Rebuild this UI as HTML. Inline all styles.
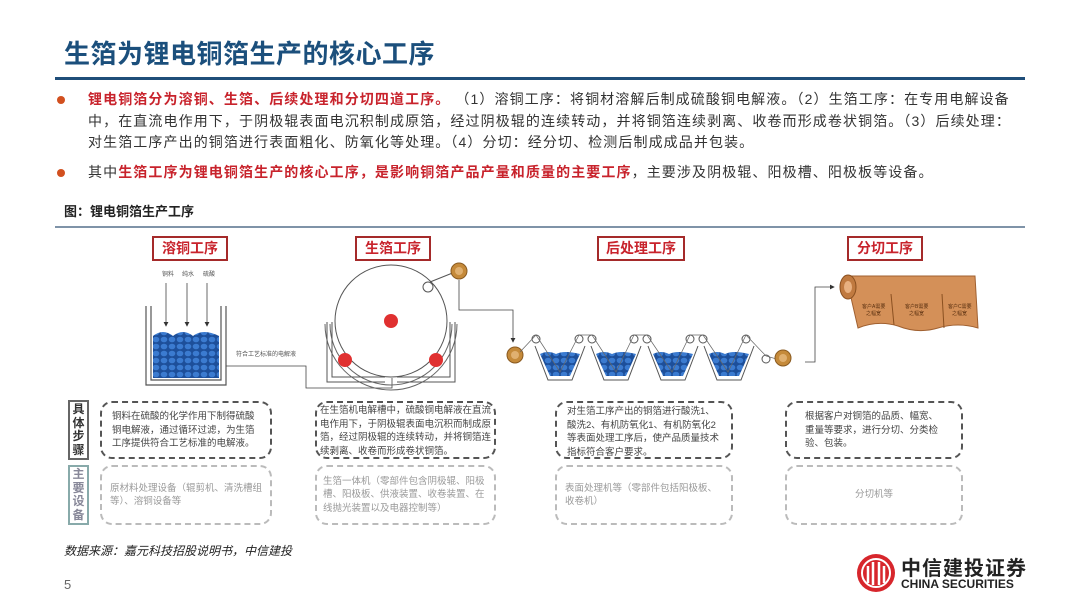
<!DOCTYPE html>
<html><head><meta charset="utf-8"><style>
*{margin:0;padding:0;box-sizing:border-box}
body{width:1080px;height:608px;background:#fff;position:relative;overflow:hidden;font-family:"Liberation Sans","Noto Sans CJK SC",sans-serif;color:#333}
.a{position:absolute}
.title{left:64px;top:34px;font-size:26px;font-weight:bold;color:#1b4f7c;letter-spacing:0.5px}
.bl{left:88px;font-size:14px;line-height:21.5px;color:#333;white-space:nowrap;letter-spacing:1.1px}
.dot{left:57px;width:8px;height:8px;border-radius:50%;background:#d2501f}
.r{color:#c8232c;font-weight:bold}
.step{border:2px solid #a52a2a;color:#c8232c;font-weight:bold;font-size:14px;text-align:center;line-height:21px;height:25px}
.db{border:2px dashed #555;border-radius:12px;font-size:9.5px;line-height:13.5px;color:#444;padding:6px 8px}
.db2{border:2px dashed #bbb;border-radius:12px;font-size:9.5px;line-height:13.5px;color:#999;padding:6px 8px;display:flex;align-items:center}
.lab{border:2px solid #666;font-size:12px;font-weight:bold;text-align:center;line-height:13.5px;padding-top:1px}
</style></head><body>
<div class="a title">生箔为锂电铜箔生产的核心工序</div>
<div class="a" style="left:55px;top:77px;width:970px;height:3px;background:#1f4e79"></div>
<div class="a dot" style="top:96px"></div>
<div class="a bl" style="top:89px"><span class="r">锂电铜箔分为溶铜、生箔、后续处理和分切四道工序。</span> （1）溶铜工序：将铜材溶解后制成硫酸铜电解液。（2）生箔工序：在专用电解设备<br>中，在直流电作用下，于阴极辊表面电沉积制成原箔，经过阴极辊的连续转动，并将铜箔连续剥离、收卷而形成卷状铜箔。（3）后续处理：<br>对生箔工序产出的铜箔进行表面粗化、防氧化等处理。（4）分切：经分切、检测后制成成品并包装。</div>
<div class="a dot" style="top:169px"></div>
<div class="a bl" style="top:162px">其中<span class="r">生箔工序为锂电铜箔生产的核心工序，是影响铜箔产品产量和质量的主要工序</span>，主要涉及阴极辊、阳极槽、阳极板等设备。</div>
<div class="a" style="left:64px;top:201px;font-size:13px;font-weight:bold;color:#222">图：锂电铜箔生产工序</div>
<div class="a" style="left:55px;top:226px;width:970px;height:2px;background:#7f93a8"></div>

<div class="a step" style="left:152px;top:236px;width:76px">溶铜工序</div>
<div class="a step" style="left:355px;top:236px;width:76px">生箔工序</div>
<div class="a step" style="left:597px;top:236px;width:88px">后处理工序</div>
<div class="a step" style="left:847px;top:236px;width:76px">分切工序</div>

<svg class="a" style="left:0;top:0" width="1080" height="400">
<defs><pattern id="p" width="8" height="7" patternUnits="userSpaceOnUse"><rect width="8" height="7" fill="#1d4f9a"/><ellipse cx="4" cy="3.5" rx="3.3" ry="2.8" fill="#3b7bd0"/></pattern>
<marker id="m" markerWidth="6" markerHeight="6" refX="5" refY="3" orient="auto"><path d="M0,0L6,3L0,6z" fill="#333"/></marker></defs>
<g font-size="6" fill="#555"><text x="162" y="276">铜料</text><text x="182" y="276">纯水</text><text x="203" y="276">硫酸</text></g>
<g stroke="#444" stroke-width="0.8"><line x1="166" y1="283" x2="166" y2="326" marker-end="url(#m)"/><line x1="187" y1="283" x2="187" y2="326" marker-end="url(#m)"/><line x1="207" y1="283" x2="207" y2="326" marker-end="url(#m)"/></g>
<path d="M146,306V385H226V306M151,306V380H221V306" fill="none" stroke="#555" stroke-width="1.2"/>
<path d="M153,336 q10,-8 20,0 q10,-8 20,0 q10,-8 26,0 V378H153z" fill="url(#p)"/>
<text x="236" y="356" font-size="6" fill="#555">符合工艺标准的电解液</text>
<path d="M226,366H306V388H392V378" fill="none" stroke="#444" stroke-width="0.8"/>
<circle cx="391" cy="321" r="56" fill="#fff" stroke="#555" stroke-width="1"/>
<path d="M330,324a61,61 0 0 0 122,0M325,324a66,66 0 0 0 132,0" fill="none" stroke="#666" stroke-width="1"/>
<path d="M327,322V382H385M455,322V382H397M332,322V377H385M450,322V377H397" fill="none" stroke="#555" stroke-width="1"/>
<circle cx="391" cy="321" r="7" fill="#e03030"/><circle cx="345" cy="360" r="7" fill="#e03030"/><circle cx="436" cy="360" r="7" fill="#e03030"/>
<circle cx="428" cy="287" r="5" fill="#fff" stroke="#555"/>
<line x1="430" y1="282" x2="455" y2="272" stroke="#555"/>
<circle cx="459" cy="271" r="8" fill="#c58a3a" stroke="#8a5a20"/><circle cx="459" cy="271" r="4" fill="#e0b070"/>
<path d="M459,280V310H513V342" fill="none" stroke="#444" stroke-width="0.8" marker-end="url(#m)"/>
<circle cx="515" cy="355" r="8" fill="#c58a3a" stroke="#8a5a20"/><circle cx="515" cy="355" r="4" fill="#e0b070"/>
<g>
<path d="M535,346L548,380H572L585,346" fill="none" stroke="#555"/><path d="M540,354q8,-4 16,0q8,-4 24,0L570,376H550z" fill="url(#p)"/>
<path d="M591,346L604,380H628L641,346" fill="none" stroke="#555"/><path d="M596,354q8,-4 16,0q8,-4 24,0L626,376H606z" fill="url(#p)"/>
<path d="M648,346L661,380H685L698,346" fill="none" stroke="#555"/><path d="M653,354q8,-4 16,0q8,-4 24,0L683,376H663z" fill="url(#p)"/>
<path d="M704,346L717,380H741L754,346" fill="none" stroke="#555"/><path d="M709,354q8,-4 16,0q8,-4 24,0L739,376H719z" fill="url(#p)"/>
</g>
<g fill="#fff" stroke="#555"><circle cx="536" cy="339" r="4"/><circle cx="579" cy="339" r="4"/><circle cx="592" cy="339" r="4"/><circle cx="634" cy="339" r="4"/><circle cx="647" cy="339" r="4"/><circle cx="690" cy="339" r="4"/><circle cx="703" cy="339" r="4"/><circle cx="746" cy="339" r="4"/><circle cx="766" cy="359" r="4"/></g>
<path d="M520,352L536,335L560,372L579,335H592L616,372L634,335H647L672,372L690,335H703L728,372L746,335L766,356L780,360" fill="none" stroke="#666" stroke-width="0.7"/>
<circle cx="783" cy="358" r="8" fill="#c58a3a" stroke="#8a5a20"/><circle cx="783" cy="358" r="4" fill="#e0b070"/>
<path d="M805,362H815V287H834" fill="none" stroke="#444" stroke-width="0.8" marker-end="url(#m)"/>
<path d="M846,276H975L978,328q-20,-6 -40,0q-20,6 -40,-2q-20,-6 -40,2z" fill="#d49058" stroke="#a06030"/>
<ellipse cx="848" cy="287" rx="8" ry="12" fill="#c07a40" stroke="#8a5020"/><ellipse cx="848" cy="287" rx="4" ry="6" fill="#e8b080"/>
<line x1="891" y1="294" x2="894" y2="325" stroke="#8a5020"/><line x1="942" y1="294" x2="944" y2="328" stroke="#8a5020"/>
<g font-size="5" fill="#5a3010"><text x="862" y="308">客户A需要</text><text x="866" y="315">之幅宽</text><text x="905" y="308">客户B需要</text><text x="909" y="315">之幅宽</text><text x="948" y="308">客户C需要</text><text x="952" y="315">之幅宽</text></g>
</svg>

<div class="a lab" style="left:68px;top:400px;width:21px;height:60px">具<br>体<br>步<br>骤</div>
<div class="a lab" style="left:68px;top:465px;width:21px;height:60px;border-color:#8aa;color:#889">主<br>要<br>设<br>备</div>

<div class="a db" style="left:100px;top:401px;width:172px;height:58px;padding:7px 10px">铜料在硫酸的化学作用下制得硫酸铜电解液，通过循环过滤，为生箔工序提供符合工艺标准的电解液。</div>
<div class="a db" style="left:315px;top:401px;width:181px;height:58px;padding:1px 3px">在生箔机电解槽中，硫酸铜电解液在直流电作用下，于阴极辊表面电沉积而制成原箔，经过阴极辊的连续转动，并将铜箔连续剥离、收卷而形成卷状铜箔。</div>
<div class="a db" style="left:555px;top:401px;width:178px;height:58px;padding:2px 10px">对生箔工序产出的铜箔进行酸洗1、酸洗2、有机防氧化1、有机防氧化2等表面处理工序后，使产品质量技术指标符合客户要求。</div>
<div class="a db" style="left:785px;top:401px;width:178px;height:58px;padding:7px 18px">根据客户对铜箔的品质、幅宽、重量等要求，进行分切、分类检验、包装。</div>

<div class="a db2" style="left:100px;top:465px;width:172px;height:60px">原材料处理设备（辊剪机、清洗槽组等）、溶铜设备等</div>
<div class="a db2" style="left:315px;top:465px;width:181px;height:60px;padding:6px 6px">生箔一体机（零部件包含阴极辊、阳极槽、阳极板、供液装置、收卷装置、在线抛光装置以及电器控制等）</div>
<div class="a db2" style="left:555px;top:465px;width:178px;height:60px">表面处理机等（零部件包括阳极板、收卷机）</div>
<div class="a db2" style="left:785px;top:465px;width:178px;height:60px;justify-content:center">分切机等</div>

<div class="a" style="left:64px;top:542px;font-size:12px;font-style:italic;color:#222">数据来源：嘉元科技招股说明书，中信建投</div>
<div class="a" style="left:64px;top:577px;font-size:13px;color:#666">5</div>
<svg class="a" style="left:855px;top:552px" width="44" height="42"><circle cx="21" cy="21" r="19" fill="#d7262c"/><circle cx="21" cy="21" r="14" fill="none" stroke="#fff" stroke-width="2"/><path d="M13,31V14M18,33V10M24,33V10M29,31V14" stroke="#fff" stroke-width="2.5"/></svg>
<div class="a" style="left:901px;top:552px;font-size:20px;font-weight:bold;color:#222;letter-spacing:1px">中信建投证券</div>
<div class="a" style="left:901px;top:577px;font-size:12px;font-weight:bold;color:#222">CHINA SECURITIES</div>
</body></html>
